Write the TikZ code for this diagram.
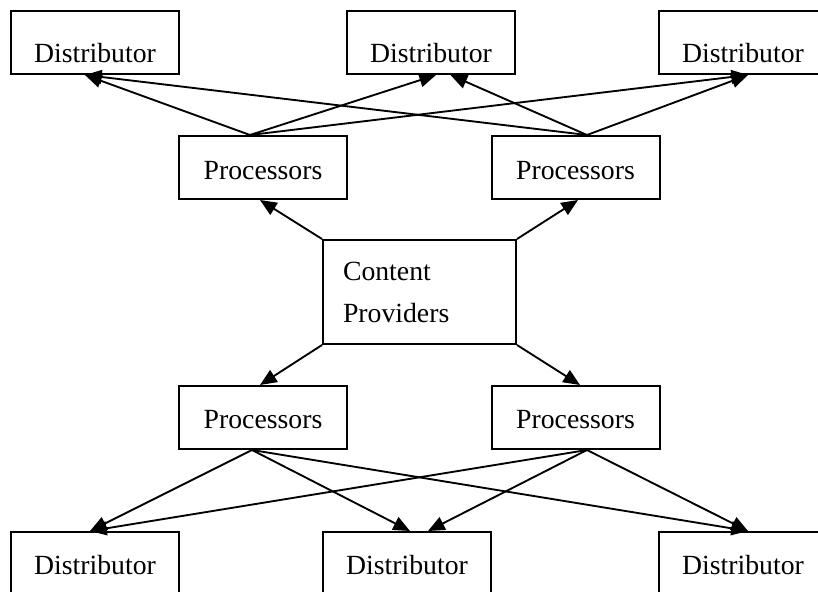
\documentclass[tikz,border=0pt]{standalone}
\usepackage{fontspec}
\setmainfont{Liberation Serif}
\usetikzlibrary{arrows.meta}

\tikzset{
  box/.style={draw, line width=1.5pt, minimum width=126pt, minimum height=47.25pt,
    inner sep=0pt, font=\fontsize{20.8pt}{31.5pt}\selectfont},
  testo/.style={text height=#1, text depth=0pt},
  freccia/.style={line width=1.4pt, -{Triangle[length=12.5pt,width=10.5pt]}}
}

\begin{document}
\begin{tikzpicture}[x=0.75pt,y=-0.75pt]
  \useasboundingbox (0,0) rectangle (818,592);
  \clip (0,0) rectangle (818,592);
  % Distributori in alto
  \node[box, testo=30.75pt] (dtl) at (95,42.5) {Distributor};
  \node[box, testo=30.75pt] (dtm) at (431,42.5) {Distributor};
  \node[box, testo=30.75pt] (dtr) at (743,42.5) {Distributor};
  % Processori
  \node[box, testo=17.25pt] (ptl) at (263,167.5) {Processors};
  \node[box, testo=17.25pt] (ptr) at (575.5,167.5) {Processors};
  \node[box, testo=15.75pt] (pbl) at (263,417.5) {Processors};
  \node[box, testo=15.75pt] (pbr) at (575.5,417.5) {Processors};
  % Nodo centrale
  \node[box, minimum height=78pt, text width=114.75pt, inner xsep=15pt,
    align=left] (cp) at (419.5,292) {Content\\Providers};
  % Distributori in basso
  \node[box, testo=15.75pt] (dbl) at (95,563.5) {Distributor};
  \node[box, testo=15.75pt] (dbm) at (407,563.5) {Distributor};
  \node[box, testo=15.75pt] (dbr) at (743,563.5) {Distributor};

  % Punti di uscita dei processori
  \coordinate (ptl-out) at ([xshift=-9.75pt]ptl.north);
  \coordinate (ptr-out) at ([xshift=8.6pt]ptr.north);
  \coordinate (pbl-out) at ([xshift=-8.25pt]pbl.south);
  \coordinate (pbr-out) at ([xshift=8.6pt]pbr.south);

  % Dal centro ai processori
  \draw[freccia] (cp.north west) -- ([xshift=-2.25pt]ptl.south);
  \draw[freccia] (cp.north east) -- ([xshift=1.9pt]ptr.south);
  \draw[freccia] (cp.south west) -- ([xshift=-2.25pt]pbl.north);
  \draw[freccia] (cp.south east) -- ([xshift=3.4pt]pbr.north);

  % Processori in alto verso i distributori
  \draw[freccia] (ptl-out) -- ([xshift=-7.5pt]dtl.south);
  \draw[freccia] (ptl-out) -- ([xshift=3.75pt]dtm.south);
  \draw[freccia] (ptl-out) -- ([xshift=3.75pt]dtr.south);
  \draw[freccia] (ptr-out) -- ([xshift=-7.5pt]dtl.south);
  \draw[freccia] (ptr-out) -- ([xshift=14.6pt]dtm.south);
  \draw[freccia] (ptr-out) -- ([xshift=3.75pt]dtr.south);

  % Processori in basso verso i distributori
  \draw[freccia] (pbl-out) -- ([xshift=-3.75pt]dbl.north);
  \draw[freccia] (pbl-out) -- ([xshift=2.25pt]dbm.north);
  \draw[freccia] (pbl-out) -- ([xshift=3.75pt]dbr.north);
  \draw[freccia] (pbr-out) -- ([xshift=-3.75pt]dbl.north);
  \draw[freccia] (pbr-out) -- ([xshift=15.75pt]dbm.north);
  \draw[freccia] (pbr-out) -- ([xshift=3.75pt]dbr.north);
\end{tikzpicture}
\end{document}
